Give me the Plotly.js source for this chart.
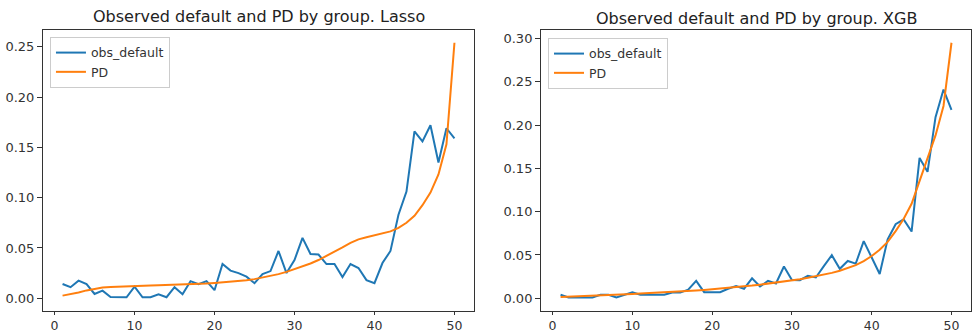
<!DOCTYPE html>
<html>
<head>
<meta charset="utf-8">
<script src="https://cdn.plot.ly/plotly-3.0.1.min.js"></script>
<style>html,body{margin:0;padding:0;background:#fff;}#chart{width:972px;height:333px;}</style>
</head>
<body>
<div id="chart"></div>
<script>
const groups = Array.from({length: 50}, (_, i) => i + 1);

const lassoObs = [0.0142,0.0110,0.0175,0.0140,0.0043,0.0076,0.0012,0.0010,0.0010,0.0116,
  0.0010,0.0010,0.0040,0.0010,0.0110,0.0040,0.0170,0.0140,0.0170,0.0080,
  0.0340,0.0275,0.0250,0.0215,0.0150,0.0240,0.0270,0.0470,0.0250,0.0380,
  0.0600,0.0440,0.0435,0.0340,0.0340,0.0210,0.0340,0.0300,0.0180,0.0150,
  0.0350,0.0470,0.0830,0.1060,0.1660,0.1560,0.1720,0.1350,0.1690,0.1590];

const lassoPD = [0.0026,0.0040,0.0058,0.0078,0.0095,0.0106,0.0113,0.0117,0.0120,0.0122,
  0.0124,0.0126,0.0128,0.0130,0.0132,0.0135,0.0138,0.0142,0.0147,0.0152,
  0.0157,0.0163,0.0170,0.0178,0.0190,0.0205,0.0222,0.0240,0.0262,0.0288,
  0.0315,0.0345,0.0380,0.0420,0.0460,0.0505,0.0550,0.0585,0.0607,0.0627,
  0.0645,0.0665,0.0700,0.0750,0.0820,0.0925,0.1050,0.1230,0.1530,0.2540];

const xgbObs = [0.0040,0.0010,0.0010,0.0010,0.0010,0.0040,0.0040,0.0010,0.0040,0.0070,
  0.0040,0.0040,0.0040,0.0040,0.0065,0.0065,0.0100,0.0200,0.0070,0.0070,
  0.0070,0.0110,0.0140,0.0110,0.0230,0.0135,0.0200,0.0170,0.0366,0.0210,
  0.0208,0.0260,0.0240,0.0370,0.0497,0.0340,0.0430,0.0400,0.0660,0.0470,
  0.0280,0.0680,0.0855,0.0910,0.0770,0.1620,0.1460,0.2090,0.2410,0.2176];

const xgbPD = [0.0015,0.0018,0.0022,0.0026,0.0030,0.0034,0.0038,0.0042,0.0046,0.0050,
  0.0054,0.0058,0.0062,0.0066,0.0071,0.0076,0.0082,0.0089,0.0096,0.0103,
  0.0110,0.0118,0.0127,0.0136,0.0146,0.0157,0.0168,0.0180,0.0193,0.0206,
  0.0220,0.0236,0.0253,0.0272,0.0293,0.0318,0.0347,0.0382,0.0428,0.0488,
  0.0560,0.0650,0.0775,0.0915,0.1090,0.1350,0.1620,0.1880,0.2220,0.2950];

const xTicks = [0, 10, 20, 30, 40, 50];
const yTicksLasso = [0, 0.05, 0.10, 0.15, 0.20, 0.25];
const yTicksXgb = [0, 0.05, 0.10, 0.15, 0.20, 0.25, 0.30];
const titles = ["Observed default and PD by group. Lasso", "Observed default and PD by group. XGB"];

const blue = "#1f77b4", orange = "#ff7f0e";
const font = "DejaVu Sans, sans-serif";

const traces = [
  {x: groups, y: lassoObs, name: "obs_default", type: "scatter", mode: "lines",
   line: {color: blue, width: 2}, xaxis: "x", yaxis: "y", legend: "legend"},
  {x: groups, y: lassoPD, name: "PD", type: "scatter", mode: "lines",
   line: {color: orange, width: 2}, xaxis: "x", yaxis: "y", legend: "legend"},
  {x: groups, y: xgbObs, name: "obs_default", type: "scatter", mode: "lines",
   line: {color: blue, width: 2}, xaxis: "x2", yaxis: "y2", legend: "legend2"},
  {x: groups, y: xgbPD, name: "PD", type: "scatter", mode: "lines",
   line: {color: orange, width: 2}, xaxis: "x2", yaxis: "y2", legend: "legend2"}
];

function xAxis(domain, anchor) {
  return {domain: domain, anchor: anchor, range: [-1.45, 52.45], tickvals: xTicks,
    showgrid: false, zeroline: false, showline: true, mirror: true, linecolor: "#333", linewidth: 1,
    ticks: "outside", ticklen: 3, tickcolor: "#333", tickfont: {family: font, size: 12.5, color: "#333"}};
}
function yAxis(domain, anchor, range, vals) {
  return {domain: domain, anchor: anchor, range: range, tickvals: vals, tickformat: ".2f",
    showgrid: false, zeroline: false, showline: true, mirror: true, linecolor: "#333", linewidth: 1,
    ticks: "outside", ticklen: 5, tickcolor: "#333", tickfont: {family: font, size: 13, color: "#333"}};
}

const yDom = [0.066, 0.910];
const legendStyle = (x, y) => ({x: x, y: y, xanchor: "left", yanchor: "top",
  bgcolor: "rgba(255,255,255,0.8)", bordercolor: "#cccccc", borderwidth: 1,
  font: {family: font, size: 12.5, color: "#333"}, tracegroupgap: 0});

const layout = {
  width: 972, height: 333,
  margin: {l: 0, r: 0, t: 0, b: 0},
  paper_bgcolor: "#fff", plot_bgcolor: "#fff",
  showlegend: true,
  xaxis: xAxis([0.0442, 0.4877], "y"),
  yaxis: yAxis(yDom, "x", [-0.0127, 0.2667], yTicksLasso),
  xaxis2: xAxis([0.5566, 0.9990], "y2"),
  yaxis2: yAxis(yDom, "x2", [-0.01475, 0.30975], yTicksXgb),
  legend: legendStyle(0.0514, 0.889),
  legend2: legendStyle(0.5638, 0.886),
  annotations: [
    {text: titles[0], x: 0.266, y: 1 - 17/333, xref: "paper", yref: "paper",
     xanchor: "center", yanchor: "middle", showarrow: false, font: {family: font, size: 16, color: "#222"}},
    {text: titles[1], x: 0.778, y: 1 - 18/333, xref: "paper", yref: "paper",
     xanchor: "center", yanchor: "middle", showarrow: false, font: {family: font, size: 16, color: "#222"}}
  ]
};

Plotly.newPlot("chart", traces, layout, {displayModeBar: false, staticPlot: true});
</script>
</body>
</html>
